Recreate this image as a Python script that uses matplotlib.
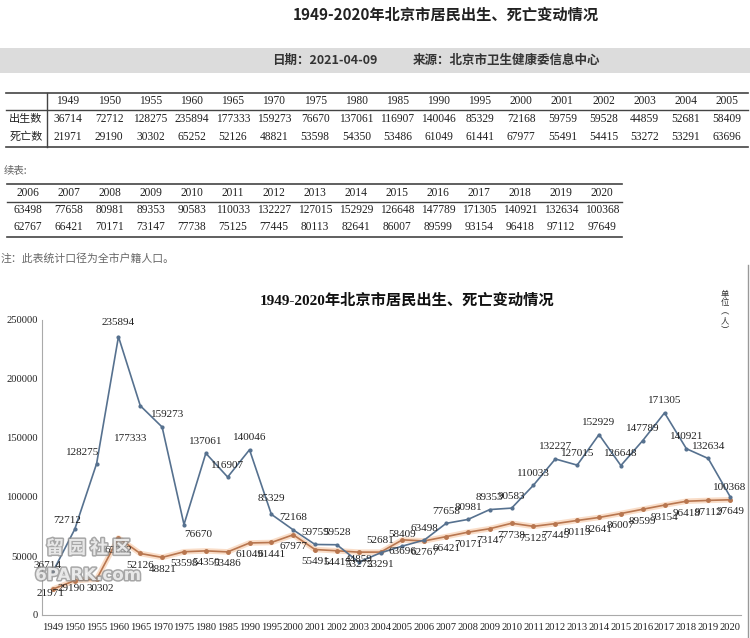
import numpy as np
import matplotlib
matplotlib.use("Agg")
import matplotlib.pyplot as plt
import matplotlib.patheffects as pe
from matplotlib.lines import Line2D
from matplotlib.patches import Rectangle

plt.rcParams['font.family'] = ['Liberation Serif', 'Noto Sans CJK SC', 'DejaVu Sans']

years = ['1949', '1950', '1955', '1960', '1965', '1970', '1975', '1980', '1985', '1990',
         '1995', '2000', '2001', '2002', '2003', '2004', '2005', '2006', '2007', '2008',
         '2009', '2010', '2011', '2012', '2013', '2014', '2015', '2016', '2017', '2018',
         '2019', '2020']
births = [36714, 72712, 128275, 235894, 177333, 159273, 76670, 137061, 116907, 140046,
          85329, 72168, 59759, 59528, 44859, 52681, 58409, 63498, 77658, 80981,
          89353, 90583, 110033, 132227, 127015, 152929, 126648, 147789, 171305, 140921,
          132634, 100368]
deaths = [21971, 29190, 30302, 65252, 52126, 48821, 53598, 54350, 53486, 61049,
          61441, 67977, 55491, 54415, 53272, 53291, 63696, 62767, 66421, 70171,
          73147, 77738, 75125, 77445, 80113, 82641, 86007, 89599, 93154, 96418,
          97112, 97649]
split = 17  # first table holds 1949-2005, "续表" holds 2006-2020

W, H = 750, 638
fig = plt.figure(figsize=(W / 100, H / 100), dpi=100)
fig.patch.set_facecolor('white')


def fx(x):
    return x / W


def fy(y):
    return 1 - y / H


sans = ['Noto Sans CJK SC', 'DejaVu Sans']
serif = ['Liberation Serif', 'Noto Sans CJK SC']

# header
fig.text(fx(446), fy(15), '1949-2020年北京市居民出生、死亡变动情况', family=sans,
         fontsize=11, fontweight='bold', ha='center', va='center', color='#222')
fig.patches.append(Rectangle((0, fy(73)), 1, fy(48) - fy(73), transform=fig.transFigure,
                             facecolor='#dcdcdc', edgecolor='none', zorder=0))
fig.text(fx(272), fy(60), '日期：2021-04-09', family=sans, fontsize=9,
         fontweight='bold', ha='left', va='center', color='#333')
fig.text(fx(413), fy(60), '来源：北京市卫生健康委信息中心', family=sans, fontsize=9,
         fontweight='bold', ha='left', va='center', color='#333')


def hline(x0, x1, y, lw=1.2, color='#444'):
    fig.lines.append(Line2D([fx(x0), fx(x1)], [fy(y), fy(y)], transform=fig.transFigure,
                            lw=lw, color=color))


def vline(x, y0, y1, lw=1.0, color='#444'):
    fig.lines.append(Line2D([fx(x), fx(x)], [fy(y0), fy(y1)], transform=fig.transFigure,
                            lw=lw, color=color))


# table 1
hline(6, 748, 93)
hline(6, 748, 110, lw=1.0)
hline(6, 748, 147)
vline(47, 93, 147)
fig.text(fx(26), fy(119), '出生数', family=sans, fontsize=8, ha='center', va='center', color='#222')
fig.text(fx(26), fy(137), '死亡数', family=sans, fontsize=8, ha='center', va='center', color='#222')
for j in range(split):
    cx = 68 + 41.2 * j
    fig.text(fx(cx), fy(101), years[j], family=serif, fontsize=8.3, ha='center', va='center', color='#222')
    fig.text(fx(cx), fy(119), str(births[j]), family=serif, fontsize=8.3, ha='center', va='center', color='#222')
    fig.text(fx(cx), fy(137), str(deaths[j]), family=serif, fontsize=8.3, ha='center', va='center', color='#222')

fig.text(fx(4), fy(170), '续表:', family=sans, fontsize=7.5, ha='left', va='center', color='#666')

# table 2
hline(7, 622, 184)
hline(7, 622, 202, lw=1.0)
hline(7, 622, 237)
for j in range(len(years) - split):
    k = split + j
    cx = 28 + 41 * j
    fig.text(fx(cx), fy(193), years[k], family=serif, fontsize=8.3, ha='center', va='center', color='#222')
    fig.text(fx(cx), fy(210), str(births[k]), family=serif, fontsize=8.3, ha='center', va='center', color='#222')
    fig.text(fx(cx), fy(227), str(deaths[k]), family=serif, fontsize=8.3, ha='center', va='center', color='#222')

fig.text(fx(1), fy(258), '注：此表统计口径为全市户籍人口。', family=sans, fontsize=7.8,
         ha='left', va='center', color='#666')

# chart frame edge
vline(748, 265, 638, lw=1.0, color='#999')

# chart
ax = fig.add_axes([fx(42), fy(615), fx(741) - fx(42), fy(320) - fy(615)])
ax.set_facecolor('none')
x = np.arange(len(years))
ax.plot(x, deaths, color='#f6c7a4', lw=4, alpha=0.6, solid_capstyle='round', zorder=1)
ax.plot(x, deaths, color='#b8764f', lw=1.2, marker='o', ms=2.5, zorder=2)
ax.plot(x, births, color='#56718f', lw=1.2, marker='o', ms=2, zorder=3)
ax.set_xlim(-0.5, len(years) - 0.5)
ax.set_ylim(0, 250000)
ax.set_yticks(np.arange(0, 250001, 50000))
ax.set_yticklabels([str(v) for v in range(0, 250001, 50000)])
ax.set_xticks(x)
ax.set_xticklabels(years)
ax.tick_params(length=0, labelsize=7.6, colors='#222')
ax.tick_params(axis='x', pad=6)
ax.tick_params(axis='y', pad=3)
for s in ['top', 'right']:
    ax.spines[s].set_visible(False)
ax.spines['left'].set_color('#aaaaaa')
ax.spines['bottom'].set_color('#aaaaaa')

# value labels
birth_off = [(-5, 6), (-8, 9), (-14, 11), (0, 14), (-10, -33), (5, 13), (14, -10)]
birth_off += [(0, 12)] * (len(years) - len(birth_off))
birth_off[10] = (0, 16)
birth_off[14] = (0, 3)
birth_off[31] = (0, 9)
death_off = [(-2, -4), (-3, -8), (4, -9)] + [(0, -12)] * (len(years) - 3)

for i in range(len(years)):
    ax.annotate(str(births[i]), (i, births[i]), xytext=birth_off[i], textcoords='offset pixels',
                ha='center', va='center', fontsize=8, color='#222', zorder=4)
    ax.annotate(str(deaths[i]), (i, deaths[i]), xytext=death_off[i], textcoords='offset pixels',
                ha='center', va='center', fontsize=8, color='#222', zorder=4)

fig.text(fx(407), fy(300), '1949-2020年北京市居民出生、死亡变动情况', family=serif,
         fontsize=11, fontweight='bold', ha='center', va='center', color='#111')
fig.text(fx(725), fy(312), '单\n位\n︵\n人\n︶', family=sans, fontsize=6,
         ha='center', va='center', linespacing=1.0, color='#333')

# forum watermark
wm = [pe.withStroke(linewidth=2.2, foreground='#8a8a8a')]
fig.text(fx(88), fy(548), '留 园 社 区', family=sans, fontsize=13, fontweight='bold',
         ha='center', va='center', color='white', path_effects=wm, alpha=0.75, zorder=0)
fig.text(fx(88), fy(575), '6PARK.com', family=['DejaVu Sans'], fontsize=12, fontweight='bold',
         ha='center', va='center', color='white', path_effects=wm, alpha=0.75, zorder=0)

fig.savefig('out.png', dpi=100)
